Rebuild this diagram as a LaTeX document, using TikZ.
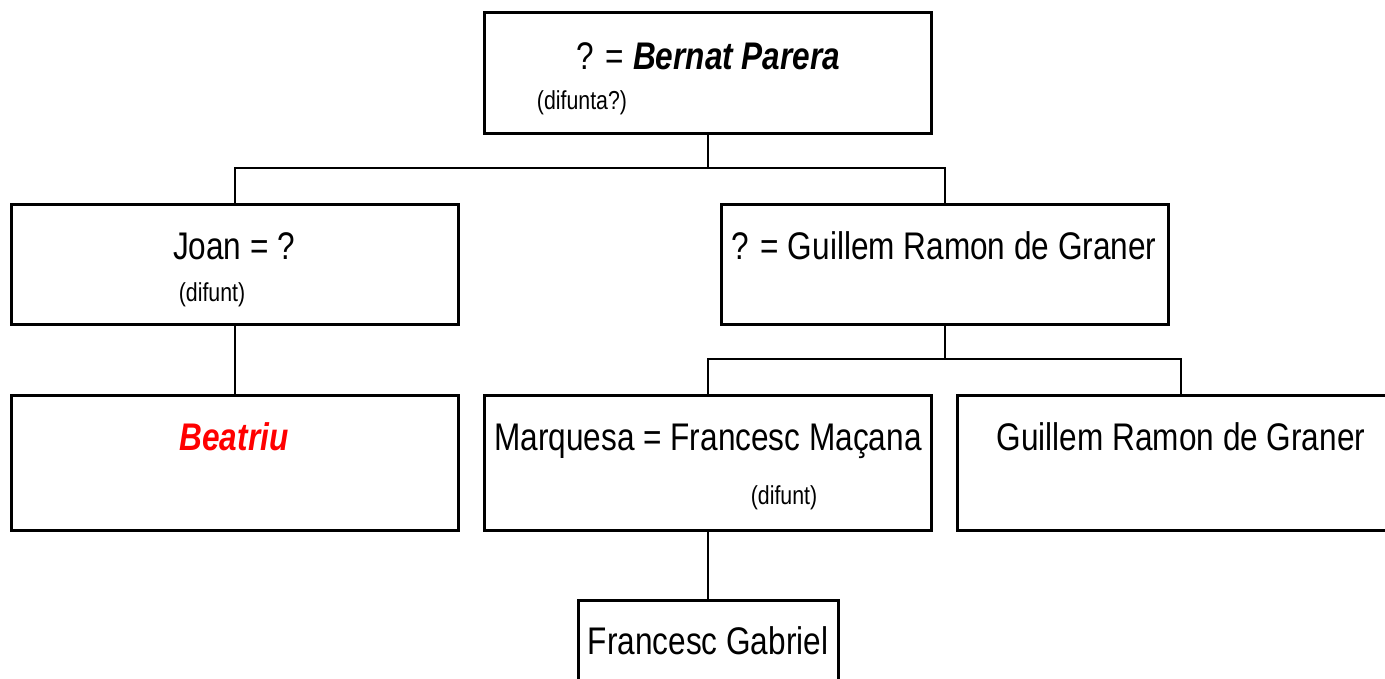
\documentclass[tikz,border=0pt]{standalone}
\usepackage{fontspec}
\setmainfont{Liberation Sans}[FakeStretch=0.82]
\begin{document}
\begin{tikzpicture}[x=1pt,y=-1pt,
  box/.style={draw=black,line width=3pt,rectangle,inner sep=0pt,minimum width=447pt},
  link/.style={draw=black,line width=2pt},
  big/.style={anchor=base,inner sep=0pt,font=\fontsize{38.5}{40}\selectfont},
  small/.style={anchor=base,inner sep=0pt,font=\fontsize{26}{28}\selectfont}]
\clip (0,0) rectangle (1385,678);
\fill[white] (0,0) rectangle (1385,678);
% boxes
\node[box,minimum height=121pt] (top) at (708,72.5) {};
\node[box,minimum height=120pt] (joan) at (235,264) {};
\node[box,minimum height=120pt] (guil) at (945,264) {};
\node[box,minimum height=135pt] (beat) at (235,462.5) {};
\node[box,minimum height=135pt] (marq) at (708,462.5) {};
\node[box,minimum height=135pt] (guil2) at (1181,462.5) {};
\node[box,minimum width=260pt,minimum height=120pt] (fg) at (708,660) {};
% texts
\node[big] (t1) at (708.5,69) {? = \textbf{\textit{Bernat Parera}}};
\node[small] (t1b) at (582,109) {(difunta?)};
\node[big] (t2) at (234,259) {Joan = ?};
\node[small] (t2b) at (212,301) {(difunt)};
\node[big] (t3) at (944,259) {? = Guillem Ramon de Graner};
\node[big,text=red] (t4) at (234,450) {\textbf{\textit{Beatriu}}};
\node[big] (t5) at (708,450) {Marquesa = Francesc Maçana};
\node[small] (t5b) at (784,504) {(difunt)};
\node[big] (t6) at (1181,450) {Guillem Ramon de Graner};
\node[big] (t7) at (708,654) {Francesc Gabriel};
% connectors
\coordinate (b1) at (708,168);
\coordinate (b2) at (945,359);
\draw[link] (top.south) -- (b1);
\draw[link] (b1) -| (joan.north);
\draw[link] (b1) -| (guil.north);
\draw[link] (joan.south) -- (beat.north);
\draw[link] (guil.south) -- (b2);
\draw[link] (b2) -| (marq.north);
\draw[link] (b2) -| (guil2.north);
\draw[link] (marq.south) -- (fg.north);
\end{tikzpicture}
\end{document}
